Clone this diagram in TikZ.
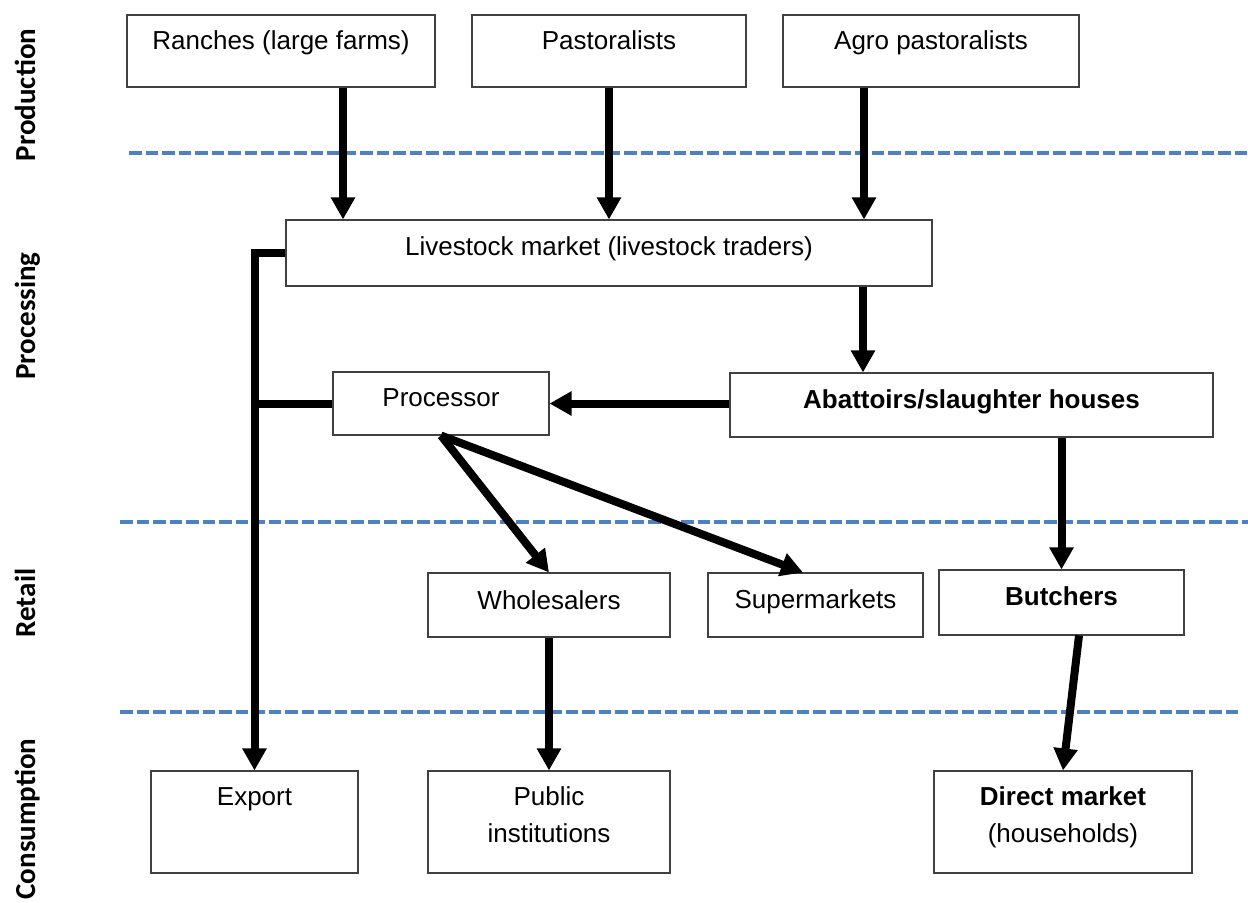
\documentclass[tikz,border=0pt]{standalone}
\usepackage{fontspec}
\setmainfont{Liberation Sans}
\newfontfamily\sidefont{Carlito}
\usepackage{tikz}
\usetikzlibrary{calc,arrows.meta}
\definecolor{divblue}{HTML}{4F81BD}

\begin{document}
\begin{tikzpicture}[x=0.2mm,y=-0.2mm,
	box/.style={draw=black!75, line width=0.6pt, fill=white, inner sep=0pt, align=center,
		font=\fontsize{14.8}{20.5}\selectfont, text height=3.8mm, text depth=#1},
	box/.default=3mm,
	twoline/.style={text height=11mm, text depth=3mm},
	flow/.style={-{Triangle[length=4.4mm,width=4.6mm]}, line width=1.6mm},
	link/.style={line width=1.6mm},
	divider/.style={divblue, line width=0.8mm, dash pattern=on 2.5mm off 0.8mm},
	stage/.style={rotate=90, inner sep=0pt, text height=4mm, text depth=1.2mm,
		font=\sidefont\bfseries\fontsize{16.5}{20}\selectfont}]
		\useasboundingbox (0,0) rectangle (1248,903);
		\draw[divider] (129,153) -- (1248,153);
		\draw[divider] (120,522) -- (1248,522);
		\draw[divider] (120,712) -- (1242,712);
		\node[stage] at (28,95) (prod) {Production};
		\node[stage] at (28,316) (procs) {Processing};
		\node[stage] at (28,603) (ret) {Retail};
		\node[stage] at (28,819) (cons) {Consumption};
		\node[box=4.4mm, minimum width=61.6mm, minimum height=14.4mm] at (281,51) (ranch) {Ranches (large farms)};
		\node[box=4.4mm, minimum width=54.8mm, minimum height=14.4mm] at (609,51) (past) {Pastoralists};
		\node[box=4.4mm, minimum width=59.2mm, minimum height=14.4mm] at (931,51) (agro) {Agro pastoralists};
		\node[box=2.8mm, minimum width=129.2mm, minimum height=13.2mm] at (609,253) (live) {Livestock market (livestock traders)};
		\node[box=2.6mm, minimum width=43.2mm, minimum height=12.6mm] at (441,403.5) (proc) {Processor};
		\node[box=2.6mm, minimum width=96.6mm, minimum height=12.8mm] at (971.5,405) (abat) {\bfseries Abattoirs/slaughter houses};
		\node[box=2.2mm, minimum width=48.4mm, minimum height=12.8mm] at (549,605) (whole) {Wholesalers};
		\node[box=2.6mm, minimum width=43mm, minimum height=12.8mm] at (815.5,605) (super) {Supermarkets};
		\node[box=2.8mm, minimum width=49mm, minimum height=13mm] at (1061.5,602.5) (butch) {\bfseries Butchers};
		\node[box=10.6mm, minimum width=41.4mm, minimum height=20.4mm] at (254.5,822) (export) {Export};
		\node[box, twoline, minimum width=48.4mm, minimum height=20.4mm] at (549,822) (pub) {Public\\institutions};
		\node[box, twoline, minimum width=51.6mm, minimum height=20.4mm] at (1063,822) (direct) {{\bfseries Direct market}\\(households)};
		\draw[flow] ([xshift=12.4mm]ranch.south) -- ([xshift=12.4mm]ranch.south |- live.north);
		\draw[flow] (past.south) -- (live.north);
		\draw[flow] ([xshift=-13.4mm]agro.south) -- ([xshift=-13.4mm]agro.south |- live.north);
		\draw[flow] ([xshift=50.8mm]live.south) -- ([xshift=50.8mm]live.south |- abat.north);
		\draw[flow] (abat.west |- proc.east) -- (proc.east);
		\draw[flow] (butch.north |- abat.south) -- (butch.north);
		\draw[flow] ([xshift=3.5mm]butch.south) -- (direct.north);
		\draw[flow] (proc.south) -- (whole.north);
		\draw[flow] (proc.south) -- ([xshift=-2.5mm]super.north);
		\draw[flow] (whole.south) -- (pub.north);
		\draw[flow] (live.west) -| (export.north);
		\draw[link] (proc.west) -- (proc.west -| export.north);
\end{tikzpicture}
\end{document}
